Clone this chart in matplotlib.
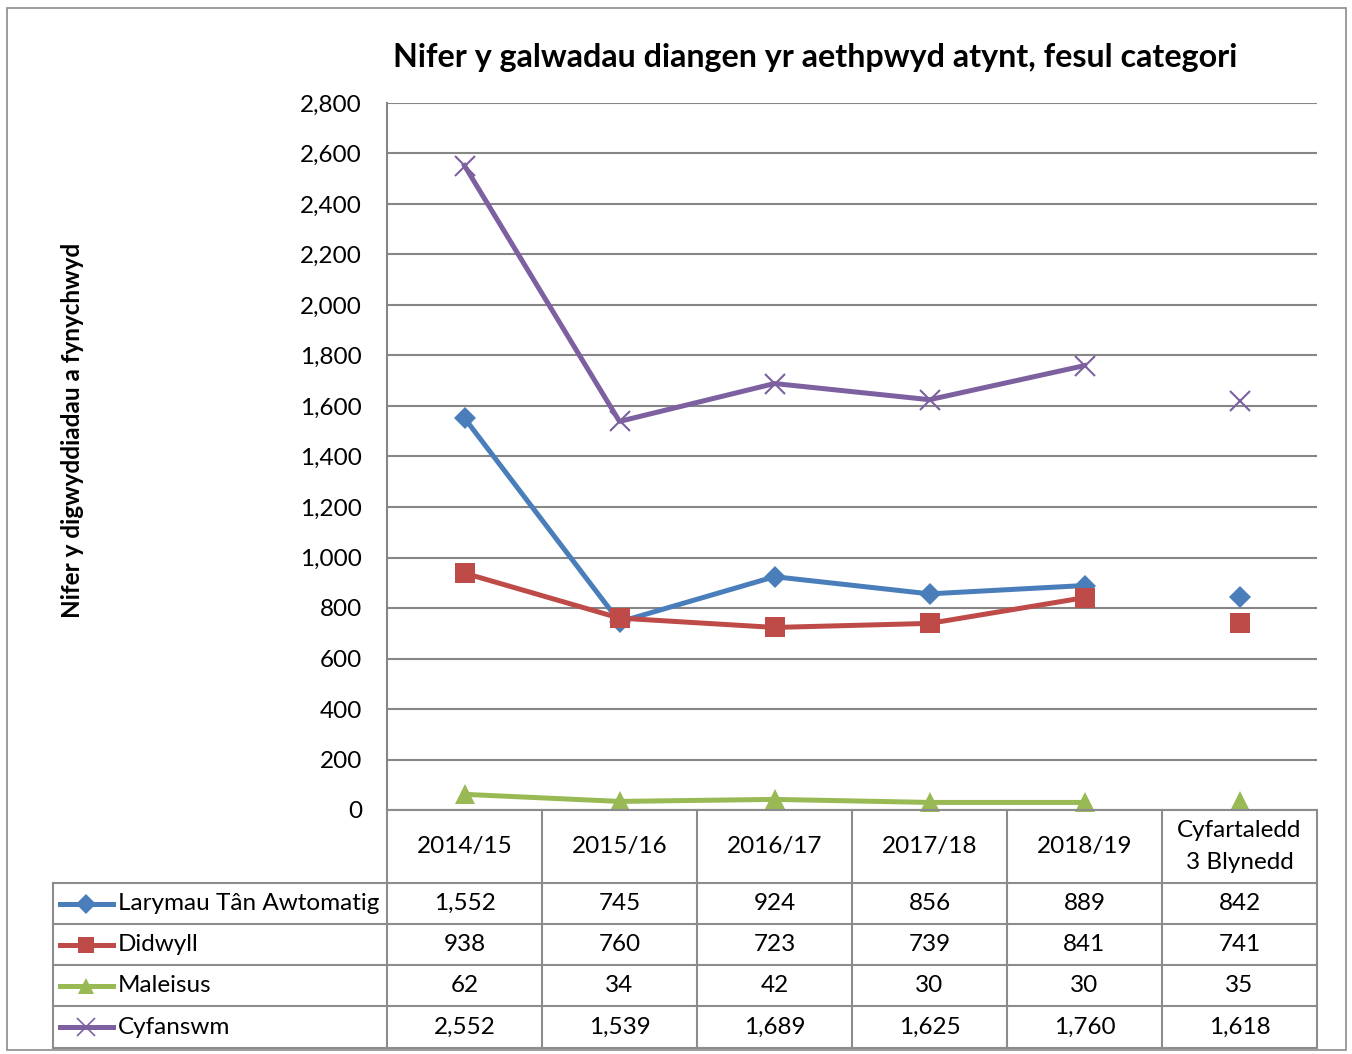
import matplotlib
matplotlib.use("Agg")
import matplotlib.pyplot as plt
from matplotlib.lines import Line2D
from matplotlib.patches import Rectangle

plt.rcParams['font.family'] = ['Lato', 'DejaVu Sans']

categories = ["2014/15", "2015/16", "2016/17", "2017/18", "2018/19", "Cyfartaledd\n3 Blynedd"]
series_names = ["Larymau Tân Awtomatig", "Didwyll", "Maleisus", "Cyfanswm"]
alarms = [1552, 745, 924, 856, 889, 842]
genuine = [938, 760, 723, 739, 841, 741]
malicious = [62, 34, 42, 30, 30, 35]
total = [2552, 1539, 1689, 1625, 1760, 1618]
yticks = list(range(0, 2801, 200))

title = "Nifer y galwadau diangen yr aethpwyd atynt, fesul categori"
ylabel = "Nifer y digwyddiadau a fynychwyd"

colors = ["#4A7EBB", "#BE4B48", "#98B954", "#7D60A0"]
markers = ["D", "s", "^", "x"]
msizes = [11.5, 14, 14, 15]
values = [alarms, genuine, malicious, total]

FS = 17.5

W, H = 1352, 1054
fig = plt.figure(figsize=(W / 100, H / 100), dpi=100)

def fx(px):
    return px / W

def fy(py):
    return 1 - py / H

# outer chart border
fig.patches.append(Rectangle((fx(7), fy(1050)), fx(1346) - fx(7), fy(8) - fy(1050),
                             transform=fig.transFigure, fill=False, ec="#8C8C8C", lw=1.2))

L, R, T, B = 387, 1317, 103, 810
ax = fig.add_axes([fx(L), fy(B), fx(R) - fx(L), fy(T) - fy(B)])
ax.set_xlim(-0.5, len(categories) - 0.5)
ax.set_ylim(0, 2800)
ax.set_yticks(yticks)
ax.set_yticklabels([f"{v:,}" for v in yticks], fontsize=FS)
ax.set_xticks([])
ax.grid(axis="y", color="#868686", lw=1.5)
ax.set_axisbelow(True)
for s in ["top", "right", "bottom"]:
    ax.spines[s].set_visible(False)
ax.spines["left"].set_color("#868686")
ax.spines["left"].set_linewidth(1.5)
ax.tick_params(axis="y", length=0, pad=18)

n_line = 5
for vals, c, m, ms in zip(values, colors, markers, msizes):
    xs = list(range(n_line))
    ax.plot(xs, vals[:n_line], color=c, lw=3.6, marker=m, ms=ms, mew=1.5 if m == "x" else 0,
            mec=c, mfc=c, clip_on=False, zorder=3)
    ax.plot([n_line], [vals[n_line]], color=c, lw=0, marker=m, ms=ms, mew=1.5 if m == "x" else 0,
            mec=c, mfc=c, clip_on=False, zorder=3)

fig.text(fx(815), fy(57), title, ha="center", va="center", fontsize=23.2, fontweight="bold")
fig.text(fx(73), fy(430), ylabel, ha="center", va="center", rotation=90, fontsize=17.5, fontweight="bold")

# data table
gc = "#8C8C8C"
col_w = (R - L) / len(categories)
rows_y = [810, 883, 924, 965, 1006, 1048]
leg_left = 53

def hline(y, x0, x1):
    fig.add_artist(Line2D([fx(x0), fx(x1)], [fy(y), fy(y)], color=gc, lw=1.5, transform=fig.transFigure))

def vline(x, y0, y1):
    fig.add_artist(Line2D([fx(x), fx(x)], [fy(y0), fy(y1)], color=gc, lw=1.5, transform=fig.transFigure))

hline(810, L, R)
for y in rows_y[1:]:
    hline(y, leg_left, R)
for i in range(len(categories) + 1):
    vline(L + i * col_w, 810, 1048)
vline(leg_left, 883, 1048)

for i, cat in enumerate(categories):
    cx = L + (i + 0.5) * col_w
    fig.text(fx(cx), fy((810 + 883) / 2), cat, ha="center", va="center", fontsize=FS,
             linespacing=1.6)

for r, (name, vals, c, m, ms) in enumerate(zip(series_names, values, colors, markers, msizes)):
    cy = (rows_y[r + 1] + rows_y[r + 2]) / 2
    fig.add_artist(Line2D([fx(60), fx(113)], [fy(cy), fy(cy)], color=c, lw=3.6,
                          transform=fig.transFigure))
    fig.add_artist(Line2D([fx(86.5)], [fy(cy)], color=c, lw=0, marker=m,
                          ms=ms * 0.85, mew=1.2 if m == "x" else 0, mec=c, mfc=c,
                          transform=fig.transFigure))
    fig.text(fx(118), fy(cy), name, ha="left", va="center", fontsize=FS)
    for i, v in enumerate(vals):
        cx = L + (i + 0.5) * col_w
        fig.text(fx(cx), fy(cy), f"{v:,}", ha="center", va="center", fontsize=FS)

fig.savefig("out.png", dpi=100)
